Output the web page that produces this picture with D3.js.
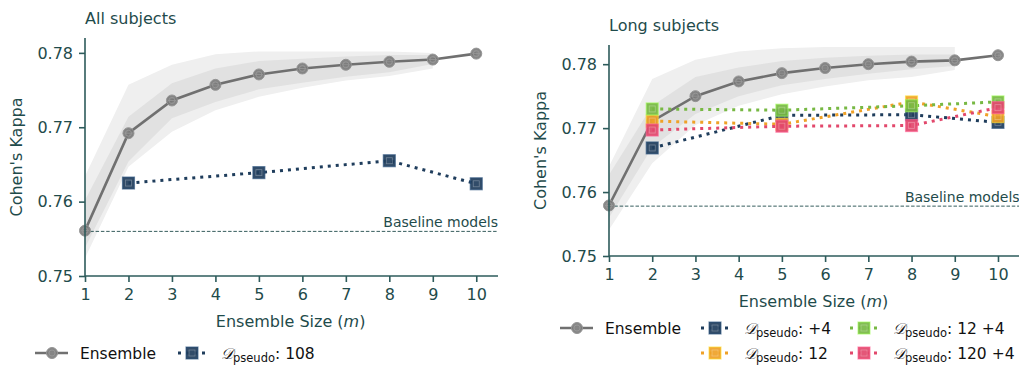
<!DOCTYPE html>
<meta charset="utf-8">
<style>
  body { margin: 0; background: #fff; }
  text { font-family: "DejaVu Sans", sans-serif; fill: #1f4b4b; }
</style>
<svg width="1019" height="365"></svg>
<script src="https://d3js.org/d3.v7.min.js"></script>
<script>
// ensemble sizes and the sizes where pseudo-labelled models were trained
var sizes = [1, 2, 3, 4, 5, 6, 7, 8, 9, 10]
var bandSizes = [1, 2, 3, 4, 5, 6, 7, 8, 9]
var pseudoSizes = [2, 5, 8, 10]
var yTicks = [0.75, 0.76, 0.77, 0.78]

// all subjects
var allEnsemble = [0.7561, 0.7692, 0.7736, 0.7757, 0.7771, 0.7779, 0.7784, 0.7788, 0.7791, 0.7799]
var allOuterHi = [0.7634, 0.7757, 0.7784, 0.7798, 0.7802, 0.7802, 0.7802, 0.7802, 0.7800]
var allOuterLo = [0.7524, 0.7647, 0.7694, 0.7723, 0.7741, 0.7753, 0.7763, 0.7769, 0.7779]
var allInnerHi = [0.7602, 0.7714, 0.7759, 0.7779, 0.7789, 0.7792, 0.7795, 0.7797, 0.7797]
var allInnerLo = [0.7538, 0.7654, 0.7712, 0.7734, 0.7751, 0.7760, 0.7768, 0.7774, 0.7785]
var allBaseline = 0.7560
var allPseudo108 = [0.7625, 0.7639, 0.7655, 0.7624]

// long subjects
var longEnsemble = [0.7579, 0.7711, 0.7750, 0.7773, 0.7786, 0.7794, 0.7800, 0.7804, 0.7806, 0.7814]
var longOuterHi = [0.7640, 0.7777, 0.7807, 0.7820, 0.7825, 0.7827, 0.7827, 0.7827, 0.7827]
var longOuterLo = [0.7541, 0.7645, 0.7705, 0.7735, 0.7753, 0.7765, 0.7775, 0.7780, 0.7791]
var longInnerHi = [0.7627, 0.7735, 0.7780, 0.7795, 0.7805, 0.7810, 0.7813, 0.7815, 0.7815]
var longInnerLo = [0.7560, 0.7670, 0.7722, 0.7750, 0.7767, 0.7777, 0.7785, 0.7792, 0.7797]
var longBaseline = 0.7578
var longPseudo4 = [0.7669, 0.7720, 0.7721, 0.7709]
var longPseudo12 = [0.7711, 0.7706, 0.7741, 0.7718]
var longPseudo12p4 = [0.7730, 0.7728, 0.7735, 0.7741]
var longPseudo120p4 = [0.7697, 0.7703, 0.7704, 0.7732]

var colors = { navy: '#1f3d5c', orange: '#efa127', green: '#77b843', pink: '#e2486c', grey: '#707070' }
var axisColor = '#2d5b5b'

var svg = d3.select('svg')

function pseudoLabel(sel, suffix) {
  // calligraphic D with "pseudo" subscript
  sel.append('tspan').attr('font-family', 'DejaVu Serif').attr('font-style', 'italic').text('𝒟')
  sel.append('tspan').attr('font-size', 11.5).attr('dy', 3).text('pseudo')
  sel.append('tspan').attr('dy', -3).text(': ' + suffix)
}

function circleMarker(g, cx, cy) {
  g.append('circle').attr('cx', cx).attr('cy', cy).attr('r', 5.5)
    .attr('fill', '#7a7a7a').attr('fill-opacity', 0.9)
    .attr('stroke', '#959595').attr('stroke-width', 1)
  g.append('circle').attr('cx', cx).attr('cy', cy).attr('r', 3)
    .attr('fill', 'none').attr('stroke', '#9a9a9a').attr('stroke-width', 0.8)
  g.append('line').attr('x1', cx - 4).attr('x2', cx + 4).attr('y1', cy).attr('y2', cy)
    .attr('stroke', '#999').attr('stroke-width', 0.8)
}

function squareMarker(g, cx, cy, color) {
  g.append('rect').attr('x', cx - 6).attr('y', cy - 6).attr('width', 12).attr('height', 12)
    .attr('fill', color).attr('fill-opacity', 0.92)
    .attr('stroke', d3.color(color).brighter(0.9)).attr('stroke-opacity', 0.6).attr('stroke-width', 1.2)
  g.append('rect').attr('x', cx - 3).attr('y', cy - 3).attr('width', 6).attr('height', 6)
    .attr('fill', 'none').attr('stroke', '#fff').attr('stroke-opacity', 0.3).attr('stroke-width', 0.8)
}

function drawPanel(p) {
  var x = d3.scaleLinear().domain([1, 10.5]).range([p.left, p.right])
  var y = d3.scaleLinear().domain([0.75, p.yMax]).range([p.bottom, p.top])
  var g = svg.append('g')

  // spread bands of the ensemble
  var area = function (lo, hi) {
    return d3.area().x(function (d, i) { return x(bandSizes[i]) })
      .y0(function (d, i) { return y(lo[i]) }).y1(function (d, i) { return y(hi[i]) })(lo)
  }
  g.append('path').attr('d', area(p.outerLo, p.outerHi)).attr('fill', '#efefef')
  g.append('path').attr('d', area(p.innerLo, p.innerHi)).attr('fill', '#e1e1e1')

  // baseline
  g.append('line').attr('x1', p.left).attr('x2', p.right)
    .attr('y1', y(p.baseline)).attr('y2', y(p.baseline))
    .attr('stroke', '#1f4b4b').attr('stroke-width', 0.9).attr('stroke-dasharray', '3.5,1.8')
  g.append('text').attr('x', p.right).attr('y', y(p.baseline) - 4)
    .attr('text-anchor', 'end').attr('font-size', 14).text('Baseline models')

  // ensemble line
  var line = d3.line().x(function (d, i) { return x(sizes[i]) }).y(function (d) { return y(d) })
  g.append('path').attr('d', line(p.ensemble)).attr('fill', 'none')
    .attr('stroke', colors.grey).attr('stroke-width', 2.6)
  p.ensemble.forEach(function (v, i) { circleMarker(g, x(sizes[i]), y(v)) })

  // pseudo-label series
  var pline = d3.line().x(function (d, i) { return x(pseudoSizes[i]) }).y(function (d) { return y(d) })
  p.pseudo.forEach(function (s) {
    g.append('path').attr('d', pline(s.values)).attr('fill', 'none')
      .attr('stroke', s.color).attr('stroke-width', 3).attr('stroke-dasharray', '3,5')
    s.values.forEach(function (v, i) { squareMarker(g, x(pseudoSizes[i]), y(v), s.color) })
  })

  // axes
  var yAxis = g.append('g').attr('transform', 'translate(' + p.left + ',0)')
    .call(d3.axisLeft(y).tickValues(yTicks).tickFormat(d3.format('.2f')).tickSize(6).tickPadding(6))
  var xAxis = g.append('g').attr('transform', 'translate(0,' + p.bottom + ')')
    .call(d3.axisBottom(x).tickValues(sizes).tickFormat(d3.format('d')).tickSize(6).tickPadding(7))
  ;[xAxis, yAxis].forEach(function (a) {
    a.select('.domain').attr('stroke', axisColor).attr('stroke-width', 1.6)
    a.selectAll('.tick line').attr('stroke', axisColor).attr('stroke-width', 1.6)
    a.selectAll('.tick text').attr('font-size', 16).attr('fill', '#1f4b4b')
      .attr('font-family', 'DejaVu Sans')
  })
  xAxis.select('.domain').attr('d', 'M' + p.left + ',0H' + p.right)
  yAxis.select('.domain').attr('d', 'M0,' + p.top + 'V' + p.bottom)

  // labels
  g.append('text').attr('x', p.left).attr('y', p.top - 14).attr('font-size', 16).text(p.title)
  var xl = g.append('text').attr('x', (p.left + x(10)) / 2 + 10).attr('y', p.bottom + 51)
    .attr('text-anchor', 'middle').attr('font-size', 16)
  xl.append('tspan').text('Ensemble Size (')
  xl.append('tspan').attr('font-style', 'italic').text('m')
  xl.append('tspan').text(')')
  g.append('text').attr('transform', 'translate(' + p.yLabelX + ',' + ((p.top + p.bottom) / 2) + ') rotate(-90)')
    .attr('text-anchor', 'middle').attr('font-size', 16).text("Cohen's Kappa")
}

drawPanel({
  title: 'All subjects', left: 85, right: 498, top: 38, bottom: 276, yMax: 0.782, yLabelX: 22,
  ensemble: allEnsemble, outerHi: allOuterHi, outerLo: allOuterLo, innerHi: allInnerHi, innerLo: allInnerLo,
  baseline: allBaseline,
  pseudo: [{ values: allPseudo108, color: colors.navy }]
})

drawPanel({
  title: 'Long subjects', left: 609, right: 1019.6, top: 45, bottom: 256, yMax: 0.783, yLabelX: 546,
  ensemble: longEnsemble, outerHi: longOuterHi, outerLo: longOuterLo, innerHi: longInnerHi, innerLo: longInnerLo,
  baseline: longBaseline,
  pseudo: [
    { values: longPseudo4, color: colors.navy },
    { values: longPseudo12, color: colors.orange },
    { values: longPseudo12p4, color: colors.green },
    { values: longPseudo120p4, color: colors.pink }
  ]
})

// legends
function legendEnsemble(lx, ly) {
  var g = svg.append('g')
  g.append('line').attr('x1', lx).attr('x2', lx + 33).attr('y1', ly).attr('y2', ly)
    .attr('stroke', colors.grey).attr('stroke-width', 2.6)
  circleMarker(g, lx + 17, ly)
  g.append('text').attr('x', lx + 45).attr('y', ly + 6).attr('font-size', 15.5).style('fill', '#111').text('Ensemble')
}
function legendPseudo(lx, ly, color, suffix) {
  var g = svg.append('g')
  g.append('line').attr('x1', lx).attr('x2', lx + 28).attr('y1', ly).attr('y2', ly)
    .attr('stroke', color).attr('stroke-width', 3).attr('stroke-dasharray', '3,5')
  squareMarker(g, lx + 14, ly, color)
  var t = g.append('text').attr('x', lx + 43).attr('y', ly + 6).attr('font-size', 15.5).style('fill', '#111')
  pseudoLabel(t, suffix)
}

legendEnsemble(35, 353)
legendPseudo(178, 353, colors.navy, '108')

legendEnsemble(560, 328)
legendPseudo(701, 328, colors.navy, '+4')
legendPseudo(850, 328, colors.green, '12 +4')
legendPseudo(701, 353, colors.orange, '12')
legendPseudo(850, 353, colors.pink, '120 +4')
</script>
